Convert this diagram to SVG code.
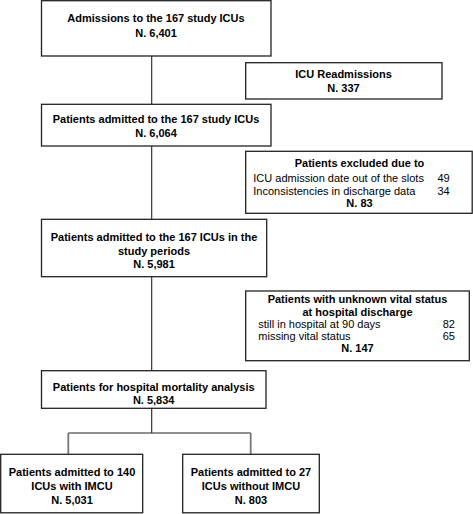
<svg xmlns="http://www.w3.org/2000/svg" width="473" height="514" viewBox="0 0 473 514">
<style>
.box{fill:#fff;stroke:#222;stroke-width:1.3}
.b{font-family:"Liberation Sans",Arial,sans-serif;font-size:11px;font-weight:bold;text-anchor:middle;fill:#000}
.r{font-family:"Liberation Sans",Arial,sans-serif;font-size:11px;fill:#000}
.re{font-family:"Liberation Sans",Arial,sans-serif;font-size:11px;fill:#000;text-anchor:end}
.c{stroke:#222;stroke-width:1.1;fill:none}
.g{stroke:#777;stroke-width:1.8;fill:none}
</style>
<rect width="473" height="514" fill="#fff"/>
<g id="connectors">
<path class="c" d="M151.7 56V104M151.7 146V219M151.7 277V371M151.7 408V433M68.3 433H250.7"/>
<path class="g" d="M68.3 433V454M250.7 433V454"/>
</g>
<g id="n1">
<rect class="box" x="41.5" y="0.7" width="229.5" height="55.3"/>
<text class="b" x="156" y="22">Admissions to the 167 study ICUs</text>
<text class="b" x="156" y="37">N. 6,401</text>
</g>
<g id="n2">
<rect class="box" x="245.7" y="62.7" width="196.3" height="36.3"/>
<text class="b" x="343.5" y="78">ICU Readmissions</text>
<text class="b" x="343.5" y="92">N. 337</text>
</g>
<g id="n3">
<rect class="box" x="41.5" y="104.3" width="229.5" height="41.7"/>
<text class="b" x="156" y="122.5">Patients admitted to the 167 study ICUs</text>
<text class="b" x="156" y="137">N. 6,064</text>
</g>
<g id="n4">
<rect class="box" x="245.7" y="151.3" width="226.5" height="62"/>
<text class="b" x="359.5" y="167">Patients excluded due to</text>
<text class="r" x="253.3" y="182">ICU admission date out of the slots</text>
<text class="r" x="437.5" y="182">49</text>
<text class="r" x="253.3" y="194.5">Inconsistencies in discharge data</text>
<text class="r" x="437.5" y="194.5">34</text>
<text class="b" x="359.5" y="207">N. 83</text>
</g>
<g id="n5">
<rect class="box" x="41.5" y="219.3" width="225.2" height="57.4"/>
<text class="b" x="154" y="241">Patients admitted to the 167 ICUs in the</text>
<text class="b" x="154" y="254.5">study periods</text>
<text class="b" x="154" y="268">N. 5,981</text>
</g>
<g id="n6">
<rect class="box" x="245.7" y="291" width="223.6" height="69.7"/>
<text class="b" x="357.5" y="302.5">Patients with unknown vital status</text>
<text class="b" x="357.5" y="315.5">at hospital discharge</text>
<text class="r" x="258.3" y="327.5">still in hospital at 90 days</text>
<text class="re" x="455" y="327.5">82</text>
<text class="r" x="258.3" y="339.5">missing vital status</text>
<text class="re" x="455" y="339.5">65</text>
<text class="b" x="357.5" y="351.5">N. 147</text>
</g>
<g id="n7">
<rect class="box" x="41.5" y="370.7" width="224.5" height="37.6"/>
<text class="b" x="153.7" y="391">Patients for hospital mortality analysis</text>
<text class="b" x="153.7" y="404">N. 5,834</text>
</g>
<g id="n8">
<rect class="box" x="0.7" y="454.3" width="142" height="58.5"/>
<text class="b" x="72" y="475.5">Patients admitted to 140</text>
<text class="b" x="72" y="489.5">ICUs with IMCU</text>
<text class="b" x="72" y="503.5">N. 5,031</text>
</g>
<g id="n9">
<rect class="box" x="182.7" y="454.3" width="136.6" height="58.5"/>
<text class="b" x="251" y="475.5">Patients admitted to 27</text>
<text class="b" x="251" y="489.5">ICUs without IMCU</text>
<text class="b" x="251" y="503.5">N. 803</text>
</g>
</svg>
